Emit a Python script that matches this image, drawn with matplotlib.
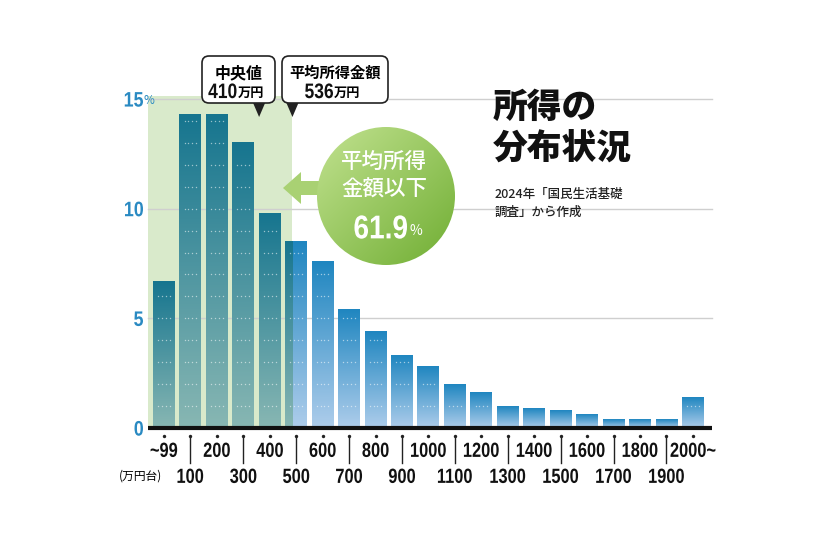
import numpy as np
import matplotlib.pyplot as plt
from matplotlib.colors import LinearSegmentedColormap
from matplotlib.patches import Rectangle, Circle, FancyBboxPatch, Polygon, PathPatch
from matplotlib.textpath import TextPath
from matplotlib.font_manager import FontProperties
from matplotlib.transforms import Affine2D

plt.rcParams['font.family'] = ['Noto Sans CJK JP', 'DejaVu Sans']
COND = FontProperties(family='Liberation Sans', weight='bold')

# income brackets (万円台) and share of households (%)
brackets = ['~99', '100', '200', '300', '400', '500', '600', '700', '800', '900',
            '1000', '1100', '1200', '1300', '1400', '1500', '1600', '1700',
            '1800', '1900', '2000~']
shares = [6.7, 14.3, 14.3, 13.0, 9.8, 8.5, 7.6, 5.4, 4.4, 3.3,
          2.8, 2.0, 1.6, 1.0, 0.9, 0.8, 0.6, 0.4, 0.4, 0.4, 1.4]
yticks = [0, 5, 10, 15]
median_income = 410
mean_income = 536
below_mean_pct = 61.9

BLUE = '#2a8ac2'
blue_cm = LinearSegmentedColormap.from_list('b', ['#aecdeb', '#1f86c0'])
teal_cm = LinearSegmentedColormap.from_list('t', ['#88b7b3', '#16758f'])
green_cm = LinearSegmentedColormap.from_list('g', ['#c2e290', '#70ae33'])


def pos(v):
    # 万円 -> bar index position (bar i covers i*100 .. i*100+99)
    return v / 100 - 0.5


fig = plt.figure(figsize=(8.4, 5.44), dpi=100)
ppu = (428 - 99) / 15  # pixels per percent
ax = fig.add_axes([148 / 840, (544 - 428) / 544, (712 - 148) / 840, 16 * ppu / 544])
xlo, xhi = -0.6, 20.72
bw = 0.83
grad = np.linspace(0, 1, 256).reshape(-1, 1)
mpos = pos(mean_income)

# shaded region below the mean
ax.add_patch(Rectangle((xlo, 0), mpos - xlo, 15.15, color='#d9eacb', lw=0, zorder=0))
for v in yticks[1:]:
    ax.plot([xlo, xhi], [v, v], color='#cfcfcf', lw=1, zorder=1, clip_on=False)

for i, h in enumerate(shares):
    x0, x1 = i - bw / 2, i + bw / 2
    ax.imshow(grad, extent=(x0, x1, 0, h), aspect='auto', cmap=blue_cm,
              origin='lower', zorder=2, interpolation='bilinear')
    if x0 < mpos:
        ax.imshow(grad, extent=(x0, min(x1, mpos), 0, h), aspect='auto', cmap=teal_cm,
                  origin='lower', zorder=2.1, interpolation='bilinear')
    ks = np.arange(1, int(h - 0.3) + 1)
    if len(ks):
        xs = np.repeat([[i - 0.22, i - 0.07, i + 0.07, i + 0.22]], len(ks), axis=0).ravel()
        ax.scatter(xs, np.repeat(ks, 4), s=1.0, color='white', alpha=0.55, lw=0, zorder=3)

ax.plot([xlo, xhi], [0, 0], color='#111111', lw=3, zorder=4, solid_capstyle='butt', clip_on=False)
ax.set_xlim(xlo, xhi)
ax.set_ylim(0, 16)
ax.axis('off')

# x tick dots and lines
for i, lab in enumerate(brackets):
    ax.scatter([i], [-0.35], s=6, color='#222222', lw=0, zorder=5, clip_on=False)
    if i % 2:
        ax.plot([i, i], [-0.35, -1.6], color='#222222', lw=1, clip_on=False)

# overlay in pixel coordinates (y grows downward)
ov = fig.add_axes([0, 0, 1, 1])
ov.set_xlim(0, 840)
ov.set_ylim(544, 0)
ov.axis('off')


def px(p):
    return ax.transData.transform((p, 0))[0]


def py(v):
    return 544 - ax.transData.transform((0, v))[1]


def ctext(x, y, s, size, ha='center', color='#111111', sx=0.8, z=7):
    # condensed bold text as a path; size in pixels, y = middle of cap height
    tp = TextPath((0, 0), s, size=size, prop=COND)
    ext = tp.get_extents()
    w = ext.width * sx
    dx = {'center': -w / 2, 'right': -w, 'left': 0}[ha] - ext.x0 * sx
    tr = Affine2D().scale(sx, -1).translate(x + dx, y + 0.36 * size)
    ov.add_patch(PathPatch(tr.transform_path(tp), fc=color, ec='none', zorder=z))


# y labels
for v in yticks:
    ctext(143, py(v), str(v), 21, ha='right', color=BLUE, sx=0.85)
ov.text(144, py(15) + 2, '%', ha='left', va='center', color=BLUE, fontsize=8.5)

# x labels
for i, lab in enumerate(brackets):
    ctext(px(i), 449.5 if i % 2 == 0 else 475.5, lab, 20.5, sx=0.8)
ov.text(140, 476, '(万円台)', ha='center', va='center', fontsize=8.5)

# callouts
for (bx, bw_, tip, l1, num, fs1) in [(202, 73, px(pos(median_income)), '中央値', str(median_income), 11.5),
                                     (282, 106, px(mpos), '平均所得金額', str(mean_income), 11)]:
    ov.add_patch(FancyBboxPatch((bx, 56), bw_, 47, boxstyle='round,pad=0,rounding_size=7',
                                fc='white', ec='#222222', lw=1.2, zorder=5))
    ov.add_patch(Polygon([(tip - 6, 103), (tip + 6, 103), (tip, 117)], closed=True,
                         fc='#222222', ec='none', zorder=6))
    cx = bx + bw_ / 2
    ov.text(cx, 73, l1, ha='center', va='center', fontsize=fs1, fontweight='bold', zorder=7)
    ctext(cx - 2, 90.5, num, 21, ha='right', sx=0.83)
    ov.text(cx - 1, 92.5, '万円', ha='left', va='center', fontsize=9.5, fontweight='bold', zorder=7)

# arrow + circle
ov.add_patch(Polygon([(283, 188), (301, 172), (301, 181), (330, 181), (330, 195),
                      (301, 195), (301, 204)], closed=True, fc='#a9d173', ec='none', zorder=5))
cxc, cyc, r = 386, 196, 69
circ = Circle((cxc, cyc), r, fc='none', ec='none')
ov.add_patch(circ)
gx, gy = np.meshgrid(np.linspace(0, 1, 200), np.linspace(0, 1, 200))
im = ov.imshow((gx + gy) / 2, extent=(cxc - r, cxc + r, cyc + r, cyc - r), cmap=green_cm,
               origin='upper', zorder=6, interpolation='bilinear')
im.set_clip_path(circ)
ov.set_xlim(0, 840)
ov.set_ylim(544, 0)
ov.text(384, 162, '平均所得', ha='center', va='center', color='white', fontsize=15.5,
        fontweight='medium', zorder=7)
ov.text(384, 190, '金額以下', ha='center', va='center', color='white', fontsize=15.5,
        fontweight='medium', zorder=7)
ctext(407, 226.5, f'{below_mean_pct}', 33, ha='right', color='white', sx=0.85)
ov.text(409, 231, '%', ha='left', va='center', color='white', fontsize=10, zorder=7)

# title
ov.text(493, 107, '所得の', ha='left', va='center', fontsize=25, fontweight='heavy', color='#111111')
ov.text(493, 149, '分布状況', ha='left', va='center', fontsize=25, fontweight='heavy', color='#111111')
ov.text(495, 194, '2024年「国民生活基礎', ha='left', va='center', fontsize=9,
        fontweight='medium', color='#222222')
ov.text(495, 212, '調査」から作成', ha='left', va='center', fontsize=9,
        fontweight='medium', color='#222222')

fig.savefig('out.png', dpi=100)
